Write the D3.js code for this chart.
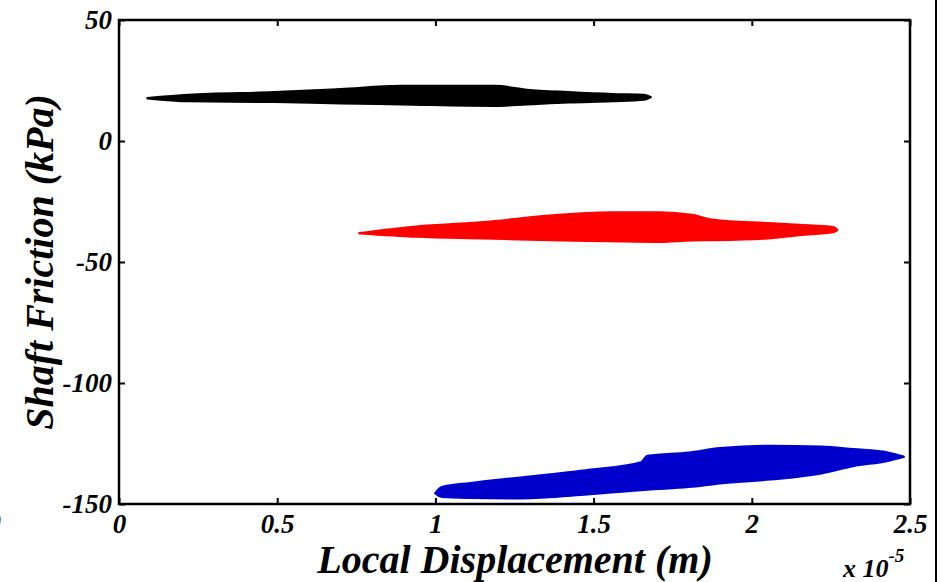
<!DOCTYPE html>
<html><head><meta charset="utf-8">
<script src="https://cdn.jsdelivr.net/npm/d3@7"></script>
<style>
html,body{margin:0;padding:0;background:#fff;}
svg{display:block;}
text{font-family:"Liberation Serif","DejaVu Serif",serif;font-weight:bold;font-style:italic;fill:#000;}
</style></head>
<body>
<svg id="chart" width="950" height="582"></svg>
<script>
// ---- data (x in units of 1e-5 m, y in kPa) ----
const xTicks = [0, 0.5, 1, 1.5, 2, 2.5];
const xTickLabels = ["0", "0.5", "1", "1.5", "2", "2.5"];
const yTicks = [50, 0, -50, -100, -150];
const yTickLabels = ["50", "0", "-50", "-100", "-150"];

// black loop envelope
const blackX     = [0.09, 0.22, 0.49, 0.70, 0.89, 1.19, 1.29, 1.42, 1.56, 1.66, 1.68];
const blackUpper = [17.7, 19.0, 20.1, 21.4, 22.7, 22.7, 21.1, 20.1, 19.3, 19.0, 18.1];
const blackLower = [17.7, 16.5, 16.2, 15.6, 15.2, 14.6, 15.2, 16.0, 16.5, 17.1, 18.1];

// red loop envelope
const redX     = [0.76, 0.94, 1.15, 1.36, 1.55, 1.71, 1.81, 1.88, 2.05, 2.15, 2.26, 2.27];
const redUpper = [-38.1, -35.4, -33.6, -30.9, -29.5, -29.5, -30.6, -32.6, -34.0, -34.7, -35.7, -36.8];
const redLower = [-38.1, -39.5, -40.2, -40.9, -41.3, -41.6, -41.0, -40.9, -40.2, -38.8, -37.5, -36.8];

// blue loop envelope
const blueX     = [1.00, 1.02, 1.11, 1.27, 1.48, 1.65, 1.67, 1.80, 1.90, 2.06, 2.22, 2.32, 2.43, 2.48];
const blueUpper = [-145.6, -143.1, -141.4, -139.1, -136.0, -132.8, -130.2, -128.8, -127.0, -126.0, -126.3, -127.4, -128.8, -130.5];
const blueLower = [-145.6, -147.0, -147.4, -147.6, -146.0, -144.2, -144.0, -142.9, -141.4, -139.8, -137.3, -134.3, -132.1, -130.5];

const seriesColors = ["#000000", "#ff0000", "#0000cc"];

// ---- layout ----
const svg = d3.select("#chart");
const L = 119, R = 910, T = 20, B = 504;
const x = d3.scaleLinear().domain([0, 2.5]).range([L, R]);
const y = d3.scaleLinear().domain([-150, 50]).range([B, T]);

const series = [
  {xs: blackX, up: blackUpper, lo: blackLower, c: seriesColors[0]},
  {xs: redX, up: redUpper, lo: redLower, c: seriesColors[1]},
  {xs: blueX, up: blueUpper, lo: blueLower, c: seriesColors[2]}
];

const area = d3.area()
  .x(d => x(d.x)).y0(d => y(d.lo)).y1(d => y(d.up))
  .curve(d3.curveMonotoneX);

series.forEach(s => {
  const pts = s.xs.map((v, i) => ({x: v, up: s.up[i], lo: s.lo[i]}));
  svg.append("path").datum(pts)
    .attr("d", area)
    .attr("fill", s.c)
    .attr("stroke", s.c)
    .attr("stroke-width", 2.5)
    .attr("stroke-linejoin", "round");
});

// axes
const fmtX = (d, i) => xTickLabels[i];
const fmtY = (d, i) => yTickLabels[i];
const tickFont = 27;

const gB = svg.append("g").attr("transform", `translate(0,${B})`)
  .call(d3.axisBottom(x).tickValues(xTicks).tickFormat(fmtX).tickSize(-6).tickPadding(10));
const gT = svg.append("g").attr("transform", `translate(0,${T})`)
  .call(d3.axisTop(x).tickValues(xTicks).tickFormat("").tickSize(-6));
const gL = svg.append("g").attr("transform", `translate(${L},0)`)
  .call(d3.axisLeft(y).tickValues(yTicks).tickFormat(fmtY).tickSize(-6).tickPadding(7));
const gR = svg.append("g").attr("transform", `translate(${R},0)`)
  .call(d3.axisRight(y).tickValues(yTicks).tickFormat("").tickSize(-6));

[gB, gT, gL, gR].forEach(g => {
  g.select(".domain").remove();
  g.selectAll(".tick line").attr("stroke", "#000").attr("stroke-width", 2);
  g.selectAll("text").attr("font-size", tickFont).attr("fill", "#000")
    .attr("font-family", '"Liberation Serif", serif')
    .attr("font-weight", "bold").attr("font-style", "italic");
});

svg.append("rect").attr("x", L).attr("y", T).attr("width", R - L).attr("height", B - T)
  .attr("fill", "none").attr("stroke", "#000").attr("stroke-width", 2.5);

// titles
svg.append("text").attr("x", 515).attr("y", 573).attr("text-anchor", "middle")
  .attr("font-size", 40).text("Local Displacement (m)");
svg.append("text").attr("transform", "translate(53,262) rotate(-90)")
  .attr("text-anchor", "middle").attr("font-size", 40).text("Shaft Friction (kPa)");

const ex = svg.append("text").attr("x", 843).attr("y", 577).attr("font-size", 26);
ex.append("tspan").text("x 10");
ex.append("tspan").attr("dy", -15).attr("font-size", 19).text("-5");

// figure frame edge on right and stray glyph on left
svg.append("line").attr("x1", 936).attr("x2", 936).attr("y1", 0).attr("y2", 582)
  .attr("stroke", "#000").attr("stroke-width", 2);
svg.append("text").attr("x", -6).attr("y", 528).attr("font-size", 24).text(")");
</script>
</body></html>
